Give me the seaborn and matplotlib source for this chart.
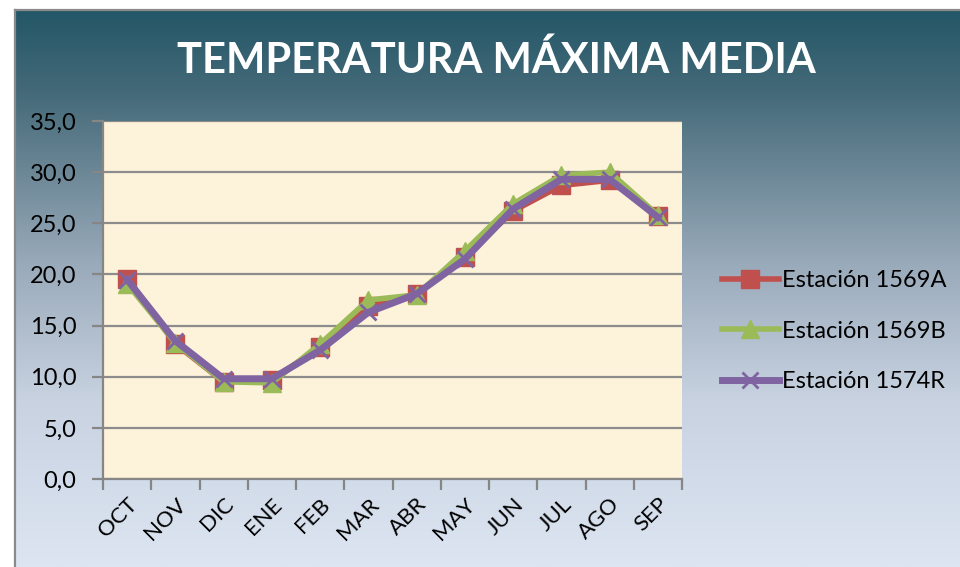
import numpy as np
import matplotlib.pyplot as plt
from matplotlib.colors import LinearSegmentedColormap
from matplotlib.lines import Line2D
import seaborn as sns

# Datos
meses = ["OCT", "NOV", "DIC", "ENE", "FEB", "MAR", "ABR", "MAY", "JUN", "JUL", "AGO", "SEP"]
est_1569a = [19.6, 13.2, 9.5, 9.7, 12.9, 16.9, 18.1, 21.7, 26.2, 28.7, 29.2, 25.7]
est_1569b = [19.1, 13.3, 9.5, 9.4, 13.2, 17.5, 18.0, 22.3, 26.9, 29.7, 30.0, 25.8]
est_1574r = [19.5, 13.5, 9.8, 9.8, 12.6, 16.3, 18.1, 21.5, 26.4, 29.3, 29.3, 25.6]
estaciones = ["Estación 1569A", "Estación 1569B", "Estación 1574R"]
colores = ["#C0504D", "#9BBB59", "#8064A2"]
marcadores = ["s", "^", "x"]

plt.rcParams["font.family"] = ["Lato", "DejaVu Sans"]

W, H = 960, 567
fig = plt.figure(figsize=(9.6, 5.67), dpi=100)
fig.patch.set_facecolor("white")

# Fondo degradado del área del gráfico
bg = fig.add_axes([15 / W, 0, (W - 15) / W, (H - 10) / H], zorder=-10)
cmap = LinearSegmentedColormap.from_list(
    "fondo",
    [(0.0, "#235767"), (0.15, "#456a79"), (0.45, "#98a9b9"),
     (0.7, "#c8d2e1"), (1.0, "#dde5f2")])
grad = np.linspace(0, 1, 256).reshape(-1, 1)
bg.imshow(grad, aspect="auto", cmap=cmap, extent=[0, 1, 0, 1], origin="upper")
bg.set_axis_off()

# Borde gris
fig.add_artist(Line2D([15 / W, 15 / W], [0, 1 - 10 / H], color="#8a8a8a", lw=1.6,
                      transform=fig.transFigure))
fig.add_artist(Line2D([15 / W, 1], [1 - 10 / H, 1 - 10 / H], color="#8a8a8a", lw=1.6,
                      transform=fig.transFigure))

ax = fig.add_axes([103 / W, 1 - 479 / H, (682 - 103) / W, (479 - 121) / H])
ax.set_facecolor("#fdf2da")

for nombre, vals, c, m in zip(estaciones, [est_1569a, est_1569b, est_1574r], colores, marcadores):
    grosor = 5 if m == "x" else 4
    sns.lineplot(x=meses, y=vals, ax=ax, color=c, marker=m, sort=False,
                 linewidth=grosor, markersize=13 if m != "x" else 12,
                 markeredgecolor=c, markerfacecolor=c,
                 markeredgewidth=2 if m == "x" else 1, label=nombre)

ax.set_xlim(-0.5, len(meses) - 0.5)
ax.set_ylim(0, 35)
ax.set_yticks(np.arange(0, 36, 5))
ax.set_yticklabels([f"{v:.1f}".replace(".", ",") for v in np.arange(0, 36, 5)])
ax.yaxis.grid(True, color="#8c8c8c", lw=1.6)
ax.set_axisbelow(True)
ax.set_xlabel("")
ax.set_ylabel("")

ax.set_xticks(range(len(meses)))
ax.set_xticklabels(meses, rotation=45, ha="right", rotation_mode="anchor")
ax.set_xticks(np.arange(-0.5, len(meses)), minor=True)
ax.tick_params(axis="x", which="major", length=0, pad=11, labelsize=16)
ax.tick_params(axis="x", which="minor", length=8, color="#868686", width=1.6)
ax.tick_params(axis="y", length=8, color="#868686", width=1.6, labelsize=17, pad=11)

for s in ["top", "right"]:
    ax.spines[s].set_visible(False)
for s in ["left", "bottom"]:
    ax.spines[s].set_color("#868686")
    ax.spines[s].set_linewidth(1.6)

handles, labels = ax.get_legend_handles_labels()
ax.legend(handles, labels, loc="center left", bbox_to_anchor=(722 / W, 1 - 331 / H),
          bbox_transform=fig.transFigure, frameon=False, fontsize=17,
          handlelength=2.4, handletextpad=0.15, labelspacing=1.25,
          borderaxespad=0, borderpad=0)

fig.text(496 / W, 1 - 60 / H, "TEMPERATURA MÁXIMA MEDIA", ha="center", va="center",
         color="white", fontsize=30, fontweight="bold")

fig.savefig("out.png", dpi=100)
